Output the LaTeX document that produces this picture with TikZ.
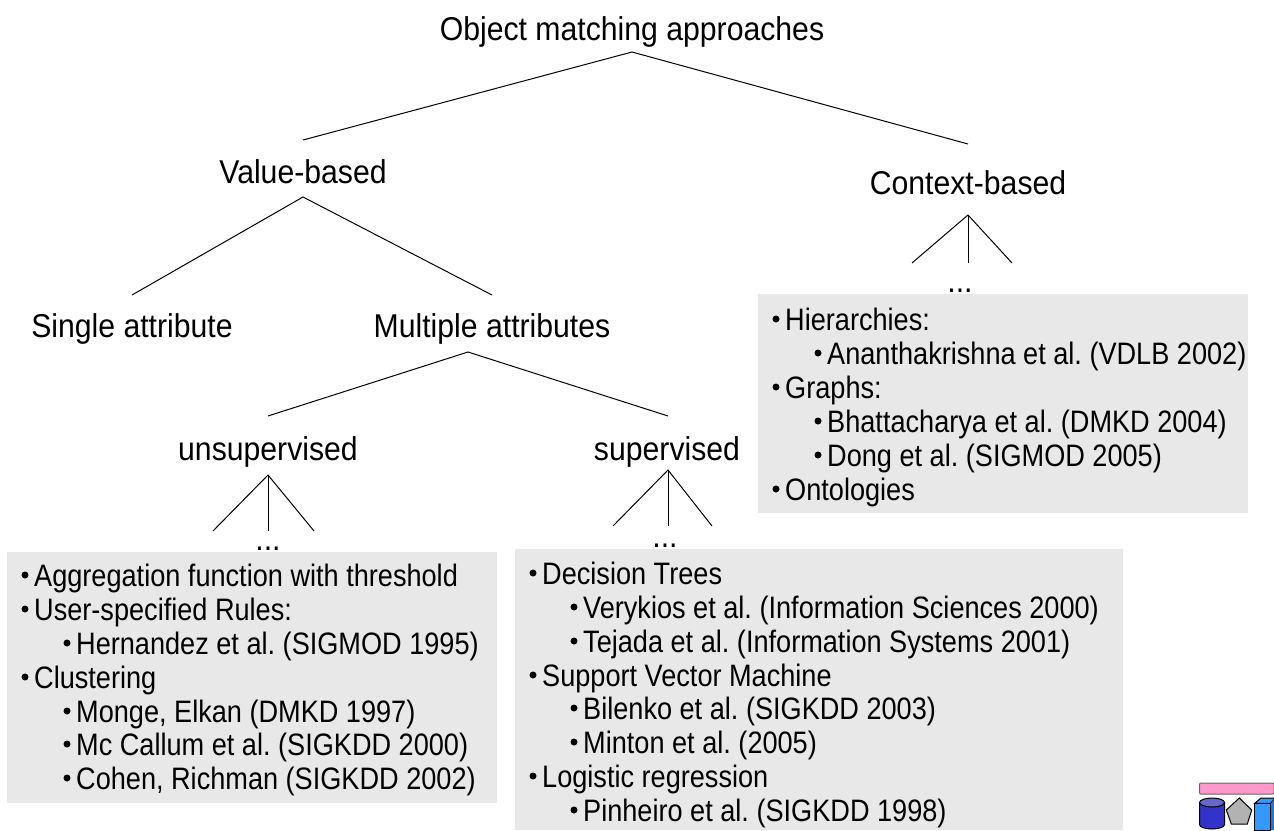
\documentclass[tikz,border=0pt]{standalone}
\usepackage{fontspec}
\setmainfont{Liberation Sans}
\definecolor{boxgray}{HTML}{E8E8E8}
\definecolor{logopink}{HTML}{FF99CC}
\definecolor{cylside}{HTML}{3333CC}
\definecolor{cyltop}{HTML}{6666CC}
\definecolor{pentgray}{HTML}{B2B2B2}
\definecolor{cubefront}{HTML}{3399FF}
\definecolor{cubeside}{HTML}{2A73C8}
\newfontfamily\titlefont[FakeStretch=0.915]{Liberation Sans}
\newfontfamily\itemfont[FakeStretch=0.875]{Liberation Sans}
\frenchspacing
\tikzset{
 title/.style={inner sep=0pt,font=\titlefont\fontsize{33}{33}\selectfont,anchor=base},
 item/.style={inner sep=0pt,font=\itemfont\fontsize{31}{33}\selectfont,anchor=base west},
 bul/.style={circle,fill=black,inner sep=0pt,minimum size=7pt},
 box/.style={fill=boxgray,draw=none,inner sep=0pt,anchor=north west},
 edge/.style={draw=black,line width=1pt},
 logo/.style={draw=black,line width=1pt},
}
\newcommand{\itm}[4]{%
 \node[bul] (#1b) at (#2-9,#3-11) {};
 \node[item] (#1) at (#2,#3) {#4};}
\begin{document}
\begin{tikzpicture}[x=1pt,y=-1pt]
\useasboundingbox (0,0) rectangle (1274,830);
\node[box,minimum width=490pt,minimum height=251pt] (b1) at (7,552) {};
\node[box,minimum width=608pt,minimum height=281pt] (b2) at (515,549) {};
\node[box,minimum width=490pt,minimum height=219pt] (b3) at (758,294) {};
\node[title] (root) at (632,40) {Object matching approaches};
\node[title] (val) at (303,183) {Value-based};
\node[title] (ctx) at (968,194) {Context-based};
\node[title] (sa) at (132,337) {Single attribute};
\node[title] (ma) at (492,337) {Multiple attributes};
\node[title] (un) at (268,460) {unsupervised};
\node[title] (su) at (667,460) {supervised};
\node[title] (d1) at (268,550) {...};
\node[title] (d2) at (665,547) {...};
\node[title] (d3) at (960,292) {...};
\foreach \n/\x/\y in {c1/303/140,c2/968/144,c3/132/295,c4/492/295,c5/268/416,c6/668/416,c7/213/531,c8/268/531,c9/314/531,c10/613/526,c11/668/526,c12/712/526,c13/912/263,c14/968/263,c15/1012/263,
 r0/632/52,r1/303/197,r2/468/352,r3/268/475,r4/668/470,r5/968/215}
 \coordinate (\n) at (\x,\y);
\draw[edge] (c1) -- (r0) -- (c2);
\draw[edge] (c3) -- (r1) -- (c4);
\draw[edge] (c5) -- (r2) -- (c6);
\draw[edge] (c7) -- (r3) -- (c9); \draw[edge] (r3) -- (c8);
\draw[edge] (c10) -- (r4) -- (c12); \draw[edge] (r4) -- (c11);
\draw[edge] (c13) -- (r5) -- (c15); \draw[edge] (r5) -- (c14);
\itm{a1}{34}{586}{Aggregation function with threshold}
\itm{a2}{34}{620}{User-specified Rules:}
\itm{a3}{76}{654}{Hernandez et al. (SIGMOD 1995)}
\itm{a4}{34}{688}{Clustering}
\itm{a5}{76}{722}{Monge, Elkan (DMKD 1997)}
\itm{a6}{76}{755}{Mc Callum et al. (SIGKDD 2000)}
\itm{a7}{76}{789}{Cohen, Richman (SIGKDD 2002)}
\itm{e1}{542}{584}{Decision Trees}
\itm{e2}{583}{618}{Verykios et al. (Information Sciences 2000)}
\itm{e3}{583}{652}{Tejada et al. (Information Systems 2001)}
\itm{e4}{542}{686}{Support Vector Machine}
\itm{e5}{583}{719}{Bilenko et al. (SIGKDD 2003)}
\itm{e6}{583}{753}{Minton et al. (2005)}
\itm{e7}{542}{787}{Logistic regression}
\itm{e8}{583}{821}{Pinheiro et al. (SIGKDD 1998)}
\itm{f1}{785}{330}{Hierarchies:}
\itm{f2}{827}{364}{Ananthakrishna et al. (VDLB 2002)}
\itm{f3}{785}{398}{Graphs:}
\itm{f4}{827}{432}{Bhattacharya et al. (DMKD 2004)}
\itm{f5}{827}{466}{Dong et al. (SIGMOD 2005)}
\itm{f6}{785}{500}{Ontologies}
% logo
\draw[draw=black!60,fill=logopink,rounded corners=1pt,line width=1pt] (1199.5,783) rectangle (1274,794);
\draw[logo,fill=cylside] (1199.5,802) -- (1199.5,824.5) arc[start angle=180,end angle=360,x radius=12.5,y radius=-4.5] -- (1224.5,802);
\draw[logo,fill=cyltop] (1212,802.5) ellipse (12.5 and 4.5);
\draw[logo,fill=pentgray] (1239.3,798) -- (1251.7,810) -- (1247.3,824) -- (1231.3,824) -- (1226.3,810) -- cycle;
\draw[logo,fill=cubefront] (1254.7,803.3) rectangle (1270.7,830);
\draw[logo,fill=cubefront] (1254.7,803.3) -- (1261,798) -- (1275,798) -- (1270.7,803.3) -- cycle;
\fill[cubeside] (1271.2,803.3) -- (1274,799) -- (1274,830) -- (1271.2,830) -- cycle;
\end{tikzpicture}
\end{document}
